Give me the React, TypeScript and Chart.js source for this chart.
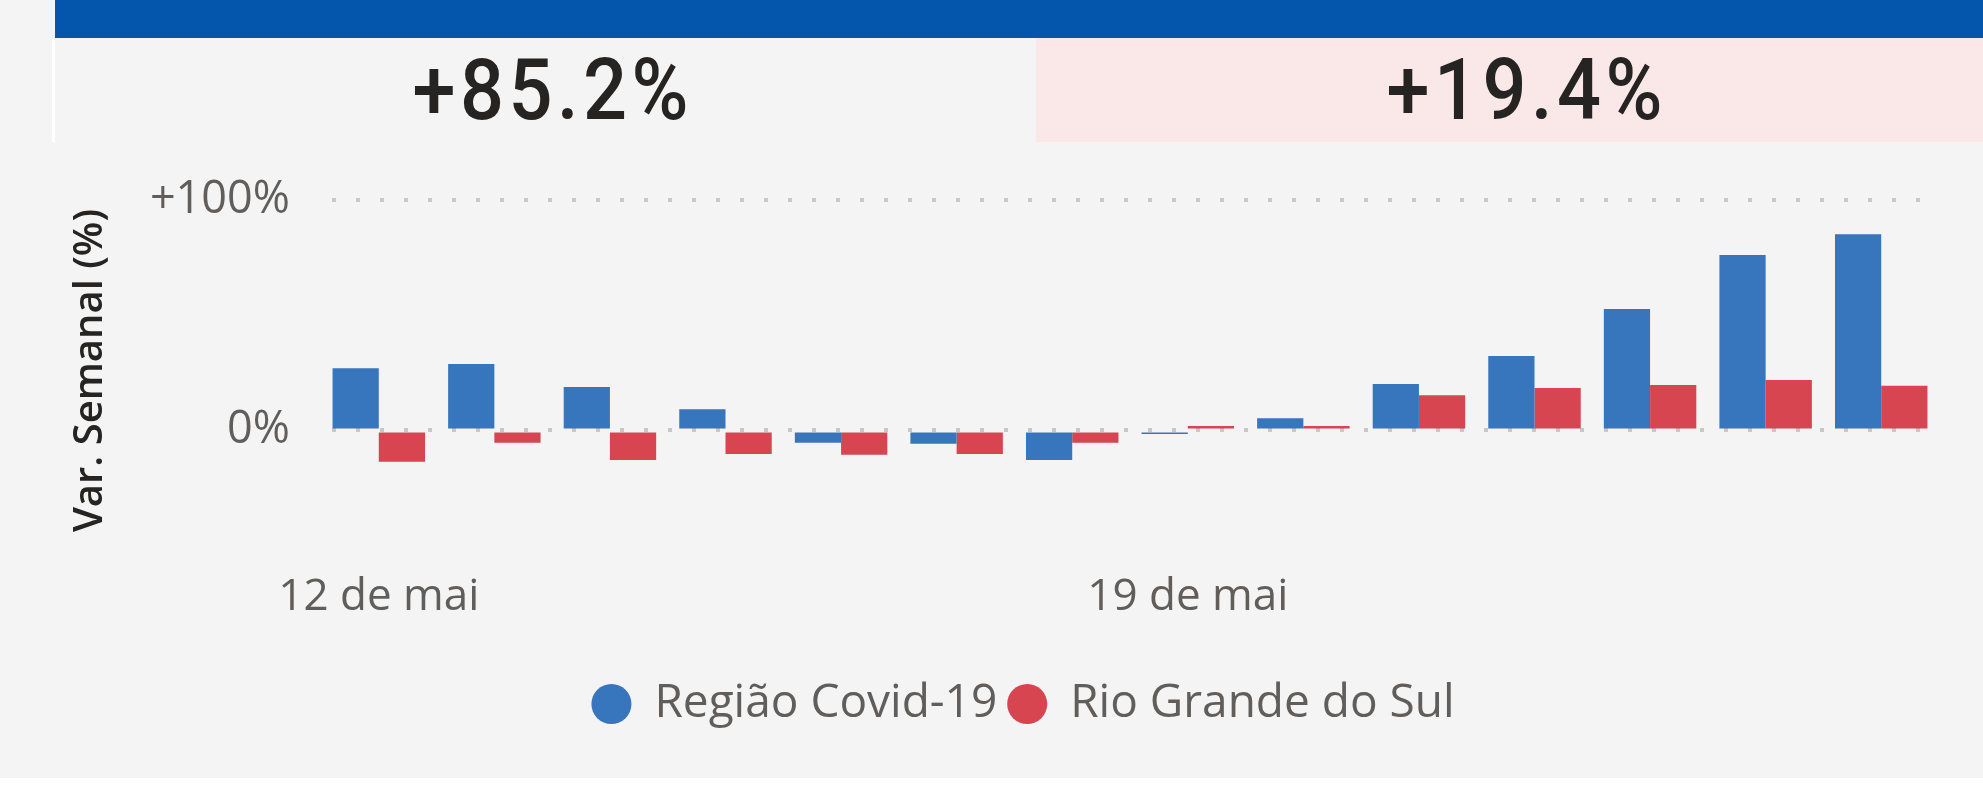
import React, { useEffect, useRef } from "react";
import { Chart, registerables } from "chart.js";

Chart.register(...registerables);

// ---- data ----
const categories = [
  "12 de mai", "13 de mai", "14 de mai", "15 de mai", "16 de mai", "17 de mai", "18 de mai",
  "19 de mai", "20 de mai", "21 de mai", "22 de mai", "23 de mai", "24 de mai", "25 de mai",
];
const shownTickLabels = ["12 de mai", "19 de mai"];
const seriesNames = ["Região Covid-19", "Rio Grande do Sul"];
const regiaoValues = [27.0, 28.8, 18.8, 9.2, -5.4, -5.8, -12.8, -1.6, 5.3, 20.1, 32.3, 52.7, 76.1, 85.2];
const rsValues = [-13.6, -5.4, -12.8, -10.2, -10.6, -10.2, -5.4, 1.9, 1.9, 15.3, 18.4, 19.7, 21.9, 19.4];
const yTickValues = [0, 100];
const yMin = -58;
const yMax = 110;

// ---- styles ----
const BLUE = "#3775BC";
const RED = "#D64550";
const HEADER_BLUE = "#0455AC";
const PAGE_BG = "#F4F4F4";
const PINK = "#FAE7E7";
const TEXT_GRAY = "#605E5C";
const TEXT_DARK = "#252423";
const GRID = "#C8C8C8";
const LEGEND_SHIFT = 26;

const fmtPct = (v: number, digits: number) =>
  (v > 0 ? "+" : "") + v.toFixed(digits) + "%";

const kpiStyle: React.CSSProperties = {
  fontFamily: "Roboto",
  fontWeight: 500,
  fontSize: 86,
  letterSpacing: 5,
  lineHeight: 1,
  color: TEXT_DARK,
  transform: "scaleX(0.9)",
};

export default function App() {
  const canvasRef = useRef<HTMLCanvasElement | null>(null);

  useEffect(() => {
    if (!canvasRef.current) return;
    const legendShift = {
      id: "legendShift",
      afterLayout(chart: any) {
        const l = chart.legend;
        if (l) {
          l.left += LEGEND_SHIFT;
          l.right += LEGEND_SHIFT;
        }
      },
    };
    const chart = new Chart(canvasRef.current, {
      type: "bar",
      data: {
        labels: categories,
        datasets: [
          { label: seriesNames[0], data: regiaoValues, backgroundColor: BLUE, borderWidth: 0 },
          { label: seriesNames[1], data: rsValues, backgroundColor: RED, borderWidth: 0 },
        ],
      },
      plugins: [legendShift],
      options: {
        animation: false,
        responsive: false,
        devicePixelRatio: 1,
        datasets: { bar: { categoryPercentage: 0.8, barPercentage: 1.0 } },
        layout: { padding: { top: 35, right: 44, bottom: 41, left: 0 } },
        plugins: {
          tooltip: { enabled: false },
          legend: {
            position: "bottom",
            labels: {
              usePointStyle: true,
              pointStyle: "circle",
              boxHeight: 28.3,
              pointStyleWidth: 40,
              padding: 10,
              color: TEXT_GRAY,
              font: { family: "Open Sans", size: 46 },
            },
          },
        },
        scales: {
          x: {
            grid: { display: false, drawTicks: false },
            border: { display: false },
            ticks: {
              autoSkip: false,
              maxRotation: 0,
              minRotation: 0,
              padding: 7,
              color: TEXT_GRAY,
              font: { family: "Open Sans", size: 44 },
              callback: (_v: any, i: number) =>
                shownTickLabels.includes(categories[i]) ? categories[i] : "",
            },
            afterFit: (s: any) => {
              s.height = 107;
            },
          },
          y: {
            min: yMin,
            max: yMax,
            afterBuildTicks: (s: any) => {
              s.ticks = yTickValues.map((v) => ({ value: v }));
            },
            afterFit: (s: any) => {
              s.width = 266;
              s.paddingTop = 0;
              s.paddingBottom = 0;
            },
            grid: {
              drawTicks: false,
              color: GRID,
              lineWidth: 4,
            },
            border: { display: false, dash: [4, 20], dashOffset: -11 },
            ticks: {
              padding: 31,
              color: TEXT_GRAY,
              font: { family: "Open Sans", size: 45 },
              callback: (v: any) => fmtPct(Number(v), 0),
            },
            title: {
              display: true,
              text: "Var. Semanal (%)",
              color: TEXT_DARK,
              padding: { top: 12, bottom: 0 },
              font: { family: "Open Sans", size: 40, weight: 600 as any },
            },
          },
        },
      } as any,
    });
    return () => chart.destroy();
  }, []);

  const lastRegiao = regiaoValues[regiaoValues.length - 1];
  const lastRs = rsValues[rsValues.length - 1];

  return (
    <div
      style={{
        position: "fixed",
        left: 0,
        top: 0,
        width: 1983,
        height: 802,
        background: "#FFFFFF",
        overflow: "hidden",
      }}
    >
      <div style={{ position: "absolute", left: 0, top: 0, width: 1983, height: 778, background: PAGE_BG }} />
      <div style={{ position: "absolute", left: 55, top: 0, width: 1928, height: 38, background: HEADER_BLUE }} />
      <div
        style={{
          position: "absolute",
          left: 52,
          top: 38,
          width: 984,
          height: 104,
          boxSizing: "border-box",
          borderLeft: "3px solid #FFFFFF",
          background: PAGE_BG,
          display: "flex",
          alignItems: "center",
          justifyContent: "center",
        }}
      >
        <span style={{ ...kpiStyle, marginLeft: 14 }}>{fmtPct(lastRegiao, 1)}</span>
      </div>
      <div
        style={{
          position: "absolute",
          left: 1036,
          top: 38,
          width: 947,
          height: 104,
          background: PINK,
          display: "flex",
          alignItems: "center",
          justifyContent: "center",
        }}
      >
        <span style={{ ...kpiStyle, marginLeft: 34 }}>{fmtPct(lastRs, 1)}</span>
      </div>
      <div style={{ position: "absolute", left: 55, top: 142, width: 1928, height: 636 }}>
        <canvas ref={canvasRef} width={1928} height={636} style={{ display: "block" }} />
      </div>
    </div>
  );
}
